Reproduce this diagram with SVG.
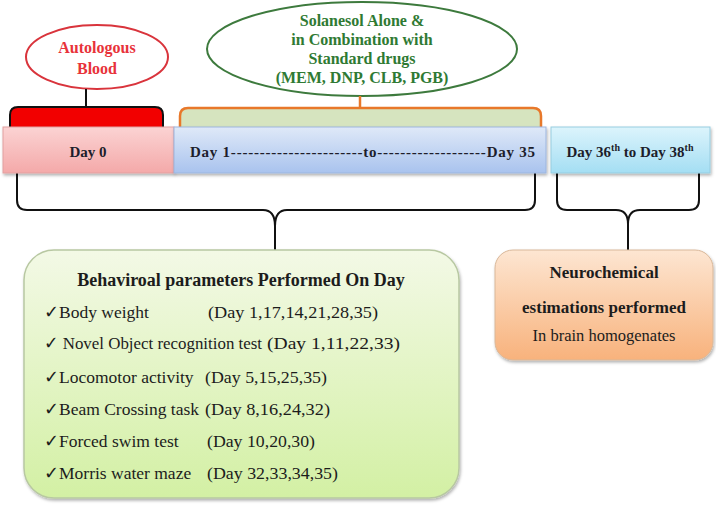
<svg xmlns="http://www.w3.org/2000/svg" width="716" height="506" viewBox="0 0 716 506">
<defs>
<linearGradient id="gPink" x1="0" y1="0" x2="0" y2="1"><stop offset="0" stop-color="#fbd3d3"/><stop offset="1" stop-color="#f4a9a9"/></linearGradient>
<linearGradient id="gBlue" x1="0" y1="0" x2="0" y2="1"><stop offset="0" stop-color="#dfe9f8"/><stop offset="1" stop-color="#a9c3ee"/></linearGradient>
<linearGradient id="gCyan" x1="0" y1="0" x2="0" y2="1"><stop offset="0" stop-color="#dcf4fc"/><stop offset="1" stop-color="#a4def3"/></linearGradient>
<linearGradient id="gGreen" x1="0" y1="0" x2="0" y2="1"><stop offset="0" stop-color="#f3f9e6"/><stop offset="1" stop-color="#d3f0a4"/></linearGradient>
<linearGradient id="gOrange" x1="0" y1="0" x2="0" y2="1"><stop offset="0" stop-color="#fde6d2"/><stop offset="1" stop-color="#f8b27c"/></linearGradient>
<filter id="sh" x="-10%" y="-10%" width="120%" height="125%"><feDropShadow dx="1" dy="2" stdDeviation="1.5" flood-color="#000" flood-opacity="0.3"/></filter>
</defs>
<style>
text{font-family:"Liberation Serif","Times New Roman",serif;fill:#1c1c1c}
.b{font-weight:bold}
.day{font-size:15px;font-weight:bold;fill:#1d1d2b}
.red{fill:#e8323a;font-size:16px;font-weight:bold}
.grn{fill:#2f7a33;font-size:16px;font-weight:bold}
.item{font-size:17.5px}
.conn{fill:none;stroke:#111;stroke-width:2}
</style>

<g id="autologous">
<ellipse cx="97" cy="57" rx="71" ry="32" fill="#fff" stroke="#d9343c" stroke-width="2"/>
<text class="red" x="97" y="53" text-anchor="middle">Autologous</text>
<text class="red" x="97" y="74" text-anchor="middle">Blood</text>
</g>

<g id="solanesol">
<ellipse cx="362" cy="49" rx="155" ry="47" fill="#fff" stroke="#3d7a3d" stroke-width="2"/>
<text class="grn" x="362" y="26" text-anchor="middle">Solanesol Alone &amp;</text>
<text class="grn" x="362" y="45" text-anchor="middle">in Combination with</text>
<text class="grn" x="362" y="64" text-anchor="middle">Standard drugs</text>
<text class="grn" x="362" y="83" text-anchor="middle">(MEM, DNP, CLB, PGB)</text>
</g>

<g id="connectors">
<line x1="86" y1="89" x2="86" y2="108" stroke="#111" stroke-width="2"/>
<path d="M10 128 V115 Q10 107 18 107 H155 Q163 107 163 115 V128" fill="#f20000" stroke="#111" stroke-width="2"/>
<line x1="360" y1="96" x2="360" y2="109" stroke="#e8782a" stroke-width="2.5"/>
<path d="M180 128 V116 Q180 108 188 108 H533 Q541 108 541 116 V128" fill="#d6e4bf" stroke="#e8782a" stroke-width="2.5"/>
<path class="conn" d="M17 173 V200 Q17 210 27 210 H263 Q275 210 275 226 V250"/>
<path class="conn" d="M535 173 V200 Q535 210 525 210 H287 Q275 210 275 226"/>
<path class="conn" d="M557 173 V200 Q557 210 567 210 H616 Q628 210 628 224 V250"/>
<path class="conn" d="M699 173 V200 Q699 210 689 210 H640 Q628 210 628 224"/>
</g>

<g id="day0">
<rect x="3" y="127" width="171" height="46" fill="url(#gPink)" stroke="#e2a0a0" stroke-width="1" filter="url(#sh)"/>
<text class="day" x="88" y="157" text-anchor="middle">Day 0</text>
</g>

<g id="day1to35">
<rect x="174" y="127" width="372" height="46" fill="url(#gBlue)" stroke="#9db6de" stroke-width="1" filter="url(#sh)"/>
<text class="day" x="190" y="157" textLength="345" lengthAdjust="spacing">Day 1-----------------------to-------------------Day 35</text>
</g>

<g id="day36to38">
<rect x="551" y="127" width="159" height="46" fill="url(#gCyan)" stroke="#97cde0" stroke-width="1" filter="url(#sh)"/>
<text class="day" x="630" y="157" text-anchor="middle">Day 36<tspan font-size="10" dy="-6">th</tspan><tspan dy="6"> to Day 38</tspan><tspan font-size="10" dy="-6">th</tspan></text>
</g>

<g id="behavioral">
<rect x="24" y="250" width="435" height="248" rx="30" ry="30" fill="url(#gGreen)" stroke="#b8c8a2" stroke-width="1.5" filter="url(#sh)"/>
<text class="b" x="241" y="286" font-size="18" text-anchor="middle">Behaviroal parameters Performed On Day</text>
<text class="item" x="44" y="318">✓Body weight</text>
<text class="item" x="208" y="318" textLength="170" lengthAdjust="spacingAndGlyphs">(Day 1,17,14,21,28,35)</text>
<text class="item" x="44" y="349" textLength="218" lengthAdjust="spacingAndGlyphs">✓ Novel Object recognition test</text>
<text class="item" x="267" y="349" textLength="133" lengthAdjust="spacingAndGlyphs">(Day 1,11,22,33)</text>
<text class="item" x="44" y="383">✓Locomotor activity</text>
<text class="item" x="205" y="383" textLength="122" lengthAdjust="spacingAndGlyphs">(Day 5,15,25,35)</text>
<text class="item" x="44" y="415">✓Beam Crossing task</text>
<text class="item" x="205" y="415" textLength="125" lengthAdjust="spacingAndGlyphs">(Day 8,16,24,32)</text>
<text class="item" x="44" y="447">✓Forced swim test</text>
<text class="item" x="207" y="447" textLength="108" lengthAdjust="spacingAndGlyphs">(Day 10,20,30)</text>
<text class="item" x="44" y="479">✓Morris water maze</text>
<text class="item" x="207" y="479" textLength="131" lengthAdjust="spacingAndGlyphs">(Day 32,33,34,35)</text>
</g>

<g id="neurochemical">
<rect x="495" y="250" width="218" height="110" rx="18" ry="18" fill="url(#gOrange)" stroke="#d9b89a" stroke-width="1" filter="url(#sh)"/>
<text class="b" x="604" y="278" font-size="17" text-anchor="middle">Neurochemical</text>
<text class="b" x="604" y="313" font-size="17" text-anchor="middle">estimations performed</text>
<text x="604" y="341" font-size="16.5" text-anchor="middle">In brain homogenates</text>
</g>
</svg>
